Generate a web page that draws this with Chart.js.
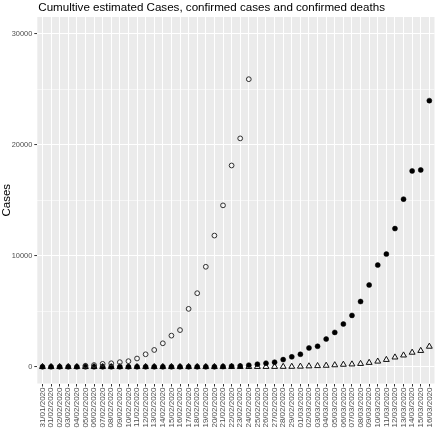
<!DOCTYPE html>
<html>
<head>
<meta charset="utf-8">
<script src="https://cdn.jsdelivr.net/npm/chart.js@4.4.1/dist/chart.umd.min.js"></script>
<style>
    body { margin: 0; background: #fff; }
    #wrap { width: 440px; height: 429px; }
</style>
</head>
<body>
<div id="wrap"><canvas id="casesChart"></canvas></div>
<script>
const TITLE = 'Cumultive estimated Cases, confirmed cases and confirmed deaths';

const dates = [
    '31/01/2020', '01/02/2020', '02/02/2020', '03/02/2020', '04/02/2020', '05/02/2020',
    '06/02/2020', '07/02/2020', '08/02/2020', '09/02/2020', '10/02/2020', '11/02/2020',
    '12/02/2020', '13/02/2020', '14/02/2020', '15/02/2020', '16/02/2020', '17/02/2020',
    '18/02/2020', '19/02/2020', '20/02/2020', '21/02/2020', '22/02/2020', '23/02/2020',
    '24/02/2020', '25/02/2020', '26/02/2020', '27/02/2020', '28/02/2020', '29/02/2020',
    '01/03/2020', '02/03/2020', '03/03/2020', '04/03/2020', '05/03/2020', '06/03/2020',
    '07/03/2020', '08/03/2020', '09/03/2020', '10/03/2020', '11/03/2020', '12/03/2020',
    '13/03/2020', '14/03/2020', '15/03/2020', '16/03/2020'
];

// estimated cases (open circles), only up to 24/02
const estimated = [
    null, null, null, null, null, 100,
    160, 270, 320, 420, 510, 750,
    1130, 1520, 2120, 2810, 3310, 5220,
    6630, 9010, 11820, 14540, 18130, 20570,
    25900, null, null, null, null, null,
    null, null, null, null, null, null,
    null, null, null, null, null, null,
    null, null, null, null
];

// confirmed cases (filled circles)
const confirmed = [
    2, 2, 2, 2, 2, 2,
    2, 3, 3, 3, 3, 3,
    3, 3, 3, 3, 3, 3,
    3, 3, 3, 20, 60, 80,
    150, 240, 330, 420, 650, 900,
    1130, 1700, 1850, 2500, 3100, 3850,
    4630, 5880, 7370, 9160, 10150, 12450,
    15100, 17640, 17730, 23970
];

// confirmed deaths (open triangles)
const deaths = [
    0, 0, 0, 0, 0, 0,
    0, 0, 0, 0, 0, 0,
    0, 0, 0, 0, 0, 0,
    0, 0, 0, 0, 1, 2,
    3, 7, 10, 12, 17, 21,
    34, 60, 85, 115, 160, 205,
    235, 280, 375, 490, 640, 860,
    1040, 1290, 1450, 1830
];

const yTicks = [0, 5000, 10000, 15000, 20000, 25000, 30000];

const toPoints = arr => arr.map((v, i) => ({ x: i, y: v }));

const panelPlugin = {
    id: 'panel',
    beforeDraw(chart) {
        const { ctx, chartArea: a } = chart;
        ctx.save();
        ctx.fillStyle = '#ebebeb';
        ctx.fillRect(a.left, a.top, a.right - a.left, a.bottom - a.top);
        ctx.restore();
    },
    afterDraw(chart) {
        const { ctx, chartArea: a } = chart;
        ctx.save();
        ctx.font = '11.6px "Liberation Sans", Arial, sans-serif';
        ctx.fillStyle = '#000';
        ctx.textBaseline = 'alphabetic';
        ctx.fillText(TITLE, a.left + 1, 10.6);
        ctx.restore();
    }
};

const isMajor = v => v % 10000 === 0;

new Chart(document.getElementById('casesChart'), {
    type: 'scatter',
    data: {
        datasets: [
            {
                label: 'Estimated cases',
                data: toPoints(estimated),
                pointStyle: 'circle',
                pointRadius: 2.4,
                pointBorderWidth: 1,
                borderColor: '#333',
                backgroundColor: 'rgba(0,0,0,0)'
            },
            {
                label: 'Confirmed cases',
                data: toPoints(confirmed),
                pointStyle: 'circle',
                pointRadius: 2.5,
                pointBorderWidth: 0.5,
                borderColor: '#000',
                backgroundColor: '#000'
            },
            {
                label: 'Confirmed deaths',
                data: toPoints(deaths),
                pointStyle: 'triangle',
                pointRadius: 3.4,
                pointBorderWidth: 1,
                borderColor: '#111',
                backgroundColor: 'rgba(0,0,0,0)'
            }
        ]
    },
    options: {
        responsive: true,
        maintainAspectRatio: false,
        animation: false,
        layout: { padding: { top: 17, right: 2, left: 0, bottom: 0 } },
        plugins: {
            legend: { display: false },
            tooltip: { enabled: false }
        },
        scales: {
            x: {
                type: 'linear',
                min: -0.6,
                max: 45.6,
                afterBuildTicks: scale => {
                    scale.ticks = dates.map((d, i) => ({ value: i }));
                },
                afterFit: scale => { scale.height = 45.5; },
                border: { display: false },
                grid: {
                    color: '#fff',
                    lineWidth: 1,
                    tickColor: '#333',
                    tickLength: 3,
                    tickWidth: 1
                },
                ticks: {
                    autoSkip: false,
                    minRotation: 90,
                    maxRotation: 90,
                    padding: 1,
                    color: '#4d4d4d',
                    font: { family: '"Liberation Sans", Arial, sans-serif', size: 8 },
                    callback: v => dates[v]
                }
            },
            y: {
                min: -1500,
                max: 31500,
                afterBuildTicks: scale => {
                    scale.ticks = yTicks.map(v => ({ value: v }));
                },
                afterFit: scale => { scale.width = 37.3; },
                border: { display: false },
                title: {
                    display: true,
                    text: 'Cases',
                    color: '#000',
                    padding: { top: 0, bottom: 0 },
                    font: { family: '"Liberation Sans", Arial, sans-serif', size: 11.5 }
                },
                grid: {
                    color: '#fff',
                    lineWidth: ctx => isMajor(ctx.tick.value) ? 1.1 : 0.55,
                    tickColor: ctx => isMajor(ctx.tick.value) ? '#333' : 'rgba(0,0,0,0)',
                    tickLength: 3,
                    tickWidth: 1
                },
                ticks: {
                    padding: 2,
                    color: '#4d4d4d',
                    font: { family: '"Liberation Sans", Arial, sans-serif', size: 7.4 },
                    callback: v => isMajor(v) ? String(v) : ''
                }
            }
        }
    },
    plugins: [panelPlugin]
});
</script>
</body>
</html>
